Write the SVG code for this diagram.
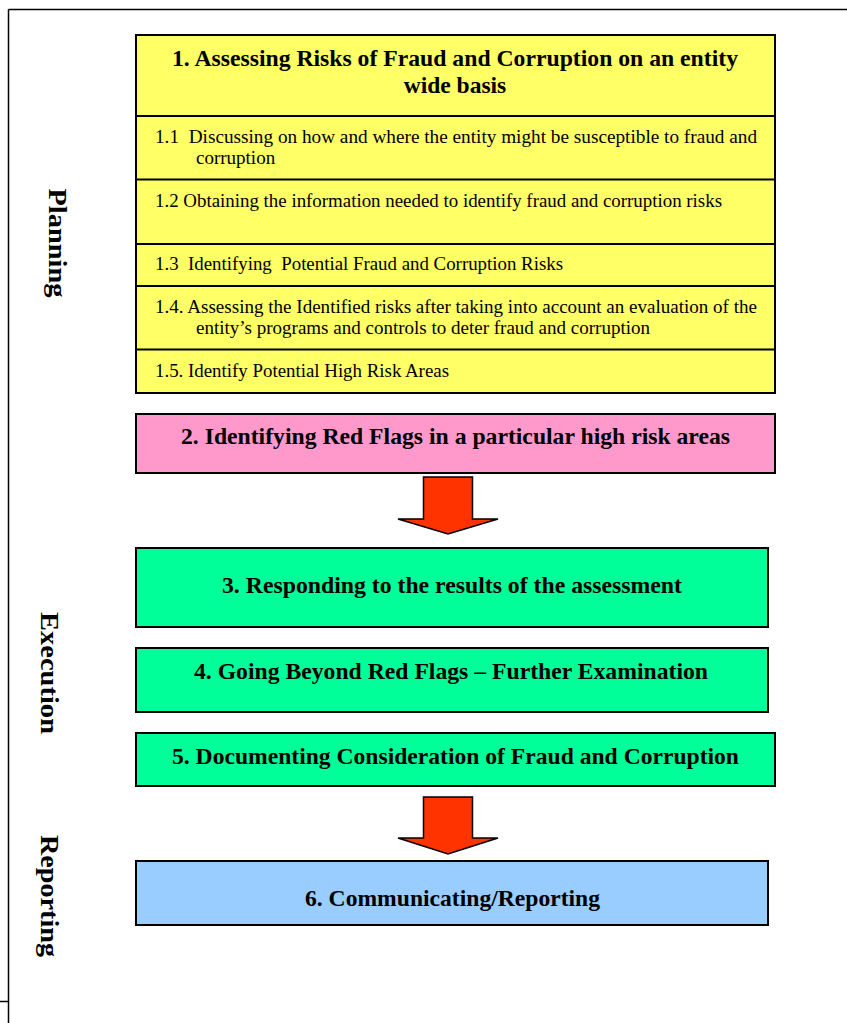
<svg xmlns="http://www.w3.org/2000/svg" width="847" height="1023" viewBox="0 0 847 1023">
<style>
  .box{stroke:#000;stroke-width:2}
  .row{stroke:#000;stroke-width:2;fill:none}
  .hd{font-family:"Liberation Serif",serif;font-weight:bold;font-size:23.5px;fill:#000;text-anchor:middle}
  .sub{font-family:"Liberation Serif",serif;font-size:19px;fill:#000;white-space:pre}
  .side{font-family:"Liberation Serif",serif;font-weight:bold;font-size:26px;fill:#000;text-anchor:middle}
  .arrow{fill:#FF3300;stroke:#000;stroke-width:1.5;stroke-linejoin:miter}
</style>
<rect width="847" height="1023" fill="#fff"/>
<g id="frame" fill="none" stroke="#000" stroke-width="1.5">
  <line x1="8.5" y1="9.5" x2="847" y2="9.5"/>
  <line x1="8.5" y1="9.5" x2="8.5" y2="1023"/>
  <line x1="0" y1="1001.5" x2="8.5" y2="1001.5"/>
</g>
<g id="labels">
  <text class="side" transform="translate(49,243) rotate(90)" textLength="109" lengthAdjust="spacingAndGlyphs">Planning</text>
  <text class="side" transform="translate(41,673) rotate(90)" textLength="122" lengthAdjust="spacingAndGlyphs">Execution</text>
  <text class="side" transform="translate(41,896) rotate(90)" textLength="122" lengthAdjust="spacingAndGlyphs">Reporting</text>
</g>
<g id="node1">
  <rect class="box" x="136" y="35" width="639" height="358" fill="#FFFF66"/>
  <line class="row" x1="136" y1="116" x2="775" y2="116"/>
  <line class="row" x1="136" y1="179.5" x2="775" y2="179.5"/>
  <line class="row" x1="136" y1="244" x2="775" y2="244"/>
  <line class="row" x1="136" y1="286" x2="775" y2="286"/>
  <line class="row" x1="136" y1="349.5" x2="775" y2="349.5"/>
  <text class="hd" x="455" y="66" textLength="566" lengthAdjust="spacingAndGlyphs">1. Assessing Risks of Fraud and Corruption on an entity</text>
  <text class="hd" x="455" y="93">wide basis</text>
  <text class="sub" x="155" y="143" textLength="602" lengthAdjust="spacingAndGlyphs" xml:space="preserve">1.1  Discussing on how and where the entity might be susceptible to fraud and</text>
  <text class="sub" x="196" y="164">corruption</text>
  <text class="sub" x="155" y="207" textLength="567" lengthAdjust="spacingAndGlyphs">1.2 Obtaining the information needed to identify fraud and corruption risks</text>
  <text class="sub" x="155" y="270" textLength="408" lengthAdjust="spacingAndGlyphs" xml:space="preserve">1.3  Identifying  Potential Fraud and Corruption Risks</text>
  <text class="sub" x="155" y="313" textLength="602" lengthAdjust="spacingAndGlyphs">1.4. Assessing the Identified risks after taking into account an evaluation of the</text>
  <text class="sub" x="196" y="334" textLength="454" lengthAdjust="spacingAndGlyphs">entity’s programs and controls to deter fraud and corruption</text>
  <text class="sub" x="155" y="377" textLength="294" lengthAdjust="spacingAndGlyphs">1.5. Identify Potential High Risk Areas</text>
</g>
<g id="node2">
  <rect class="box" x="136" y="414" width="639" height="59" fill="#FF99CC"/>
  <text class="hd" x="455.5" y="444" textLength="549" lengthAdjust="spacingAndGlyphs">2. Identifying Red Flags in a particular high risk areas</text>
</g>
<g id="node3">
  <rect class="box" x="136" y="548" width="632" height="79" fill="#00FF99"/>
  <text class="hd" x="452" y="593" textLength="460" lengthAdjust="spacingAndGlyphs">3. Responding to the results of the assessment</text>
</g>
<g id="node4">
  <rect class="box" x="136" y="648" width="632" height="64" fill="#00FF99"/>
  <text class="hd" x="451" y="679" textLength="514" lengthAdjust="spacingAndGlyphs">4. Going Beyond Red Flags – Further Examination</text>
</g>
<g id="node5">
  <rect class="box" x="136" y="733" width="639" height="53" fill="#00FF99"/>
  <text class="hd" x="455.5" y="764" textLength="567" lengthAdjust="spacingAndGlyphs">5. Documenting Consideration of Fraud and Corruption</text>
</g>
<g id="node6">
  <rect class="box" x="136" y="861" width="632" height="64" fill="#99CCFF"/>
  <text class="hd" x="452.5" y="906" textLength="295" lengthAdjust="spacingAndGlyphs">6. Communicating/Reporting</text>
</g>
<g id="connectors">
  <polygon class="arrow" points="423.5,477 472.5,477 472.5,519 498,519 448,534 398,519 423.5,519"/>
  <polygon class="arrow" points="423.5,797 472.5,797 472.5,838 498,838 448,854 398,838 423.5,838"/>
</g>
</svg>
